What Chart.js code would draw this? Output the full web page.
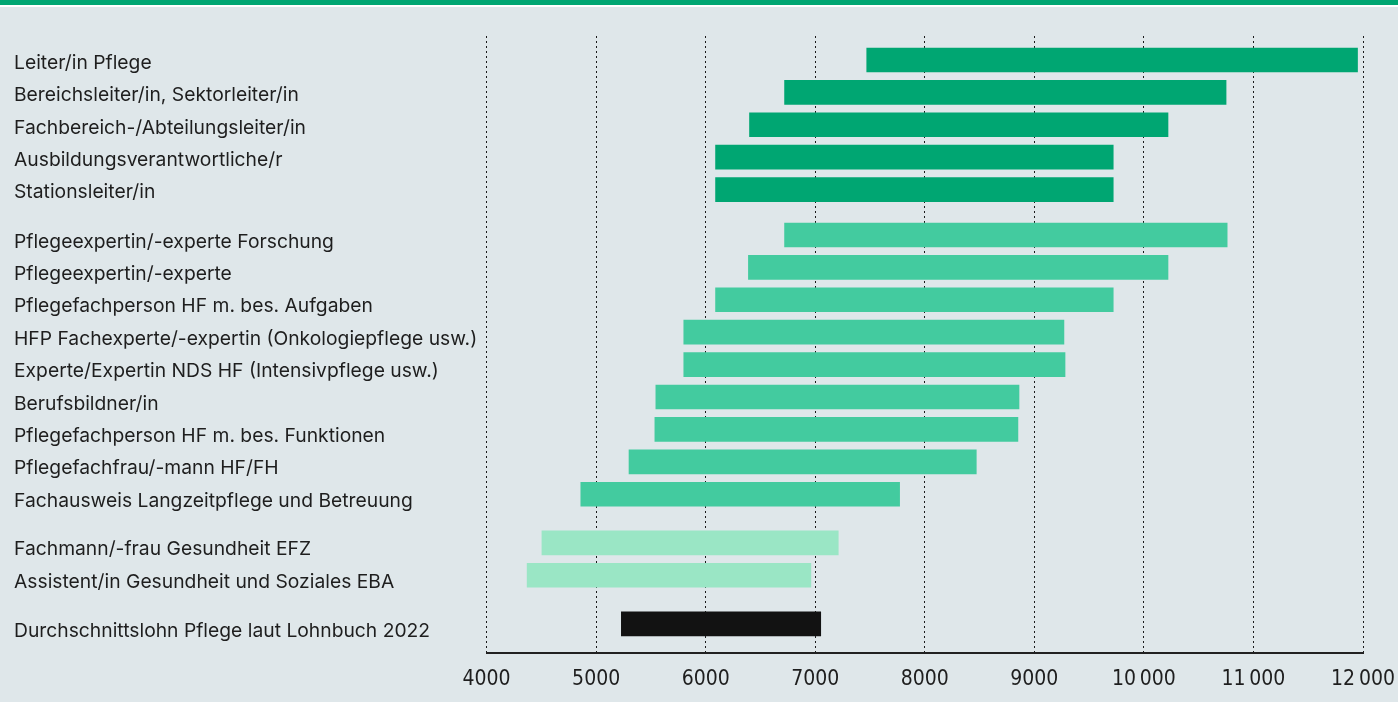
<!DOCTYPE html>
<html lang="de">
<head>
<meta charset="utf-8">
<title>Lohnspannen Pflege</title>
<script src="https://cdn.jsdelivr.net/npm/chart.js@4.4.1/dist/chart.umd.min.js"></script>
<style>
  html, body { margin: 0; padding: 0; background: #dfe7ea; }
  body { width: 1398px; height: 702px; position: relative; overflow: hidden; }
  #wrap { position: absolute; left: 0; top: 0; width: 1398px; height: 702px; }
  .stripe { position: absolute; left: 0; top: 0; width: 100%; height: 5px; background: #00a672; border-bottom: 2px solid #fff; }
</style>
</head>
<body>
<div id="wrap"><canvas id="chart" width="1398" height="702"></canvas></div>
<div class="stripe"></div>
<script>
// Monatslohn-Spannen (CHF), von oben nach unten
var LABELS = [
  "Leiter/in Pflege",
  "Bereichsleiter/in, Sektorleiter/in",
  "Fachbereich-/Abteilungsleiter/in",
  "Ausbildungsverantwortliche/r",
  "Stationsleiter/in",
  "Pflegeexpertin/-experte Forschung",
  "Pflegeexpertin/-experte",
  "Pflegefachperson HF m. bes. Aufgaben",
  "HFP Fachexperte/-expertin (Onkologiepflege usw.)",
  "Experte/Expertin NDS HF (Intensivpflege usw.)",
  "Berufsbildner/in",
  "Pflegefachperson HF m. bes. Funktionen",
  "Pflegefachfrau/-mann HF/FH",
  "Fachausweis Langzeitpflege und Betreuung",
  "Fachmann/-frau Gesundheit EFZ",
  "Assistent/in Gesundheit und Soziales EBA",
  "Durchschnittslohn Pflege laut Lohnbuch 2022"
];
var LOW  = [7470, 6720, 6400, 6090, 6090, 6720, 6390, 6090, 5800, 5800, 5545, 5536, 5300, 4860, 4505, 4370, 5230];
var HIGH = [11950, 10750, 10220, 9720, 9720, 10760, 10220, 9720, 9270, 9280, 8860, 8850, 8470, 7770, 7210, 6960, 7050];
var GROUP = [0, 0, 0, 0, 0, 1, 1, 1, 1, 1, 1, 1, 1, 1, 2, 2, 3];
var X_TICKS = [4000, 5000, 6000, 7000, 8000, 9000, 10000, 11000, 12000];

var GROUP_COLORS = ["#00a672", "#43cb9f", "#9ae6c5", "#121212"];
var GROUP_GAP = [0, 0.4, 0.5, 0.5];      // extra space before each group (in rows)
var GROUP_LABEL_NUDGE = [0, 0.12, 0.12, 0.12]; // labels sit a little lower in later groups

var TEXT = "#1e1e1e";
var GRID = "#1a1a1a";
var LABEL_FONT = "Inter, Roboto, sans-serif";
var TICK_FONT = "'Liberation Sans Narrow', 'DejaVu Sans Condensed', sans-serif";

// row positions on the y scale
var POS = [];
(function () {
  var extra = 0, last = 0;
  for (var i = 0; i < GROUP.length; i++) {
    if (GROUP[i] !== last) { extra += GROUP_GAP[GROUP[i]]; last = GROUP[i]; }
    POS.push(i + extra);
  }
})();
var LABEL_POS = POS.map(function (p, i) { return p + GROUP_LABEL_NUDGE[GROUP[i]]; });

function fmt(v) {
  var s = String(v);
  return v >= 10000 ? s.slice(0, s.length - 3) + "\u2009" + s.slice(-3) : s;
}

new Chart(document.getElementById("chart"), {
  type: "bar",
  data: {
    datasets: [{
      data: POS.map(function (p, i) { return { y: p, x: [LOW[i], HIGH[i]] }; }),
      backgroundColor: GROUP.map(function (g) { return GROUP_COLORS[g]; }),
      borderWidth: 0,
      borderSkipped: false,
      barThickness: 24
    }]
  },
  options: {
    indexAxis: "y",
    responsive: false,
    devicePixelRatio: 1,
    animation: false,
    layout: { padding: { left: 14, right: 35, top: 36, bottom: 0 } },
    plugins: { legend: { display: false }, tooltip: { enabled: false } },
    scales: {
      x: {
        type: "linear",
        position: "bottom",
        min: 4000,
        max: 12000,
        afterBuildTicks: function (s) { s.ticks = X_TICKS.map(function (v) { return { value: v }; }); },
        afterFit: function (s) { s.height = 49; s.paddingLeft = 0; s.paddingRight = 0; },
        grid: { color: GRID, lineWidth: 1, drawTicks: false },
        border: { display: true, color: "#222", width: 2, dash: [2, 3] },
        ticks: {
          color: TEXT,
          padding: 14,
          autoSkip: false,
          maxRotation: 0,
          font: { family: TICK_FONT, size: 21 },
          callback: function (v) { return fmt(v); }
        }
      },
      y: {
        type: "linear",
        reverse: true,
        offset: false,
        min: -0.74,
        max: 18.3,
        afterBuildTicks: function (s) { s.ticks = LABEL_POS.map(function (v) { return { value: v }; }); },
        afterFit: function (s) { s.width = 472.6; },
        grid: { display: false },
        border: { display: false },
        ticks: {
          color: TEXT,
          autoSkip: false,
          crossAlign: "far",
          labelOffset: 3,
          font: { family: LABEL_FONT, size: 19.3 },
          callback: function (v, i) { return LABELS[i]; }
        }
      }
    }
  }
});
</script>
</body>
</html>
